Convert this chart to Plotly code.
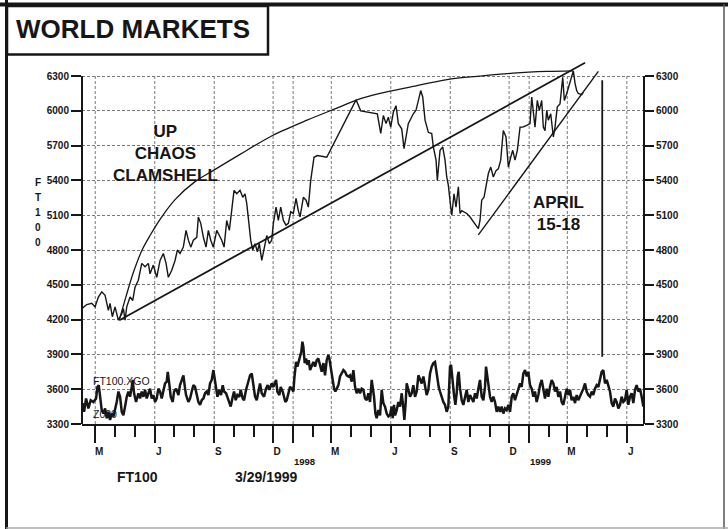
import plotly.graph_objects as go
import pandas as pd

# ---------------- data ----------------
BASE_DATE = "1997-03-01"   # day offsets below are counted from this date

ft100_day = [-20.9, -13.1, -5.4, -0.3, 4.8, 10.1, 15.2, 20.3, 22.9, 26.4,
             30.6, 35.7, 41.0, 43.5, 46.1, 48.7, 53.8, 58.0, 61.5, 66.6,
             71.9, 77.0, 82.1, 84.7, 89.8, 95.1, 100.2, 105.3, 109.5, 113.0,
             118.3, 123.4, 127.0, 131.1, 136.2, 140.4, 144.0, 147.7, 151.7, 157.0,
             159.4, 163.1, 167.2, 171.3, 174.9, 178.6, 182.6, 187.9, 191.9, 195.6,
             199.2, 203.3, 207.4, 211.1, 214.6, 218.8, 223.9, 228.1, 231.6, 234.3,
             236.7, 240.4, 243.5, 247.1, 250.7, 253.7, 257.5, 261.0, 265.2, 269.2,
             272.9, 275.4, 279.6, 283.1, 286.8, 290.9, 295.0, 298.6, 302.3, 306.3,
             310.5, 314.0, 316.7, 321.8, 326.0, 329.5, 333.2, 338.3, 343.4, 358.0,
             403.3, 410.5, 436.2, 441.5, 445.5, 449.7, 453.2, 456.9, 461.0, 465.1,
             468.7, 473.9, 477.5, 484.1, 491.9, 496.0, 499.6, 503.3, 506.4, 510.0,
             515.1, 520.3, 522.8, 527.0, 529.0, 533.2, 537.3, 540.9, 543.5, 546.0,
             549.7, 551.3, 554.8, 557.9, 561.5, 564.1, 566.7, 574.5, 579.6, 589.9,
             592.4, 595.0, 597.6, 601.2, 604.3, 607.9, 611.6, 615.6, 619.7, 623.3,
             627.0, 631.0, 635.2, 638.8, 642.5, 645.6, 649.1, 652.7, 656.9, 661.0,
             667.2, 672.3, 675.0, 677.4, 680.0, 683.6, 686.7, 690.4, 692.9, 695.5,
             698.2, 700.6, 704.3, 708.4, 711.0, 714.5, 718.7, 722.9, 725.4, 729.1,
             733.1, 736.8, 739.3, 742.0, 744.5, 747.0, 752.3, 754.7]
ft100_close = [4295, 4330, 4340, 4310, 4395, 4440, 4410, 4280, 4340, 4225,
               4310, 4195, 4250, 4295, 4195, 4310, 4395, 4365, 4480, 4540,
               4685, 4655, 4685, 4595, 4670, 4565, 4710, 4770, 4685, 4565,
               4625, 4710, 4800, 4770, 4825, 4970, 4885, 4825, 4885, 4910,
               5085, 5030, 4910, 4825, 4970, 4885, 4825, 4970, 4925, 4885,
               4825, 5055, 4970, 5170, 5315, 5285, 5315, 5255, 5285, 5200,
               5055, 4885, 4800, 4855, 4785, 4855, 4710, 4800, 4925, 4855,
               4885, 5030, 5170, 5055, 5170, 5055, 5015, 5030, 5130, 5115,
               5245, 5140, 5085, 5255, 5230, 5170, 5400, 5600, 5615, 5600,
               6095, 6000, 5975, 5805, 5960, 5890, 5945, 5860, 5990, 6045,
               5890, 5845, 5675, 5890, 5975, 6005, 6090, 6175, 6120, 5920,
               5815, 5805, 5690, 5575, 5400, 5660, 5690, 5575, 5430, 5360,
               5170, 5100, 5285, 5170, 5345, 5115, 5140, 5115, 5085, 5000,
               4985, 5055, 5230, 5255, 5345, 5460, 5515, 5430, 5485, 5500,
               5575, 5830, 5775, 5515, 5600, 5660, 5575, 5660, 5860, 5860,
               5875, 5890, 6120, 5975, 5860, 6090, 6005, 6090, 5860, 5830,
               6005, 5920, 5975, 5775, 5860, 6035, 6060, 6290, 6090, 6150,
               6235, 6290, 6345, 6235, 6175, 6150, 6140, 6160]

osc_day = [-19.4, -17.3, -14.2, -10.6, -7.0, -2.9, 1.3, 3.3, 5.4, 7.4,
           10.0, 12.6, 15.2, 17.8, 20.3, 22.9, 25.5, 28.1, 30.6, 33.2,
           35.8, 38.4, 41.0, 43.5, 46.1, 48.7, 51.3, 53.8, 56.4, 57.9,
           60.0, 63.1, 66.7, 69.3, 71.9, 74.5, 77.0, 79.6, 82.2, 84.8,
           87.3, 89.9, 92.5, 95.1, 97.6, 100.2, 102.8, 105.4, 107.9, 110.5,
           112.1, 114.7, 116.7, 119.8, 121.9, 125.0, 128.6, 131.1, 133.7, 136.3,
           138.9, 140.4, 144.0, 146.6, 149.2, 151.8, 154.3, 156.9, 159.5, 162.1,
           164.6, 167.2, 169.8, 172.4, 175.0, 177.5, 180.1, 182.7, 184.2, 186.8,
           188.9, 192.0, 194.5, 197.1, 199.2, 202.3, 204.3, 207.4, 209.5, 212.6,
           214.6, 217.2, 219.8, 222.9, 224.9, 228.0, 230.1, 233.2, 236.8, 239.4,
           242.0, 244.5, 247.1, 249.7, 252.3, 254.8, 257.4, 261.0, 264.1, 266.7,
           269.3, 272.9, 275.5, 278.0, 279.6, 281.6, 284.7, 286.8, 289.9, 291.9,
           294.0, 296.1, 298.6, 301.2, 303.8, 306.4, 307.9, 310.5, 312.6, 314.6,
           316.7, 318.7, 320.3, 321.8, 323.9, 326.0, 328.0, 330.1, 332.2, 334.7,
           337.3, 339.9, 342.5, 345.0, 347.6, 350.2, 352.8, 355.3, 357.9, 360.5,
           362.0, 364.1, 367.2, 369.3, 371.3, 373.4, 376.0, 378.5, 381.1, 383.7,
           386.3, 388.8, 391.4, 394.0,
           396.6, 399.2, 401.7, 404.3, 406.9, 409.5, 412.0, 414.6, 417.2, 419.8,
           422.3, 424.9, 427.5, 429.0, 431.1, 433.2, 435.2, 437.8, 440.4, 443.0,
           445.5, 448.1, 450.7, 453.3, 455.8, 458.4, 460.0, 462.0, 463.6, 466.2,
           468.7, 471.3, 473.9, 476.5, 478.0, 480.1, 481.6, 484.2, 486.8, 489.3,
           491.9, 494.5, 497.1, 499.7, 502.2, 504.8, 507.4, 510.0, 512.5, 515.1,
           517.7, 520.3, 522.9, 525.4, 527.0, 529.0, 531.1, 533.2, 535.7, 538.3,
           540.9, 543.5, 546.0, 548.6, 550.2, 552.7, 554.8, 556.9, 558.9, 560.5,
           562.0, 564.1, 566.7, 569.2, 571.8, 574.4, 577.0, 579.5, 582.1, 584.7,
           587.3, 589.9, 592.4, 595.0, 597.6, 600.2, 602.7, 604.3, 606.3, 608.4,
           610.5, 613.0, 615.6, 618.2, 620.8, 623.4, 625.9, 628.5, 631.1, 633.7,
           636.2, 638.8, 641.4, 644.0, 646.5, 649.1, 651.7, 654.3, 656.9, 659.4,
           662.0, 664.6, 667.2, 669.7, 672.3, 674.9, 677.5, 680.0, 682.6, 685.2,
           687.8, 690.4, 692.9, 695.5, 698.1, 700.7, 703.2, 705.8, 708.4, 711.0,
           713.5, 716.1, 718.7, 721.3, 723.9, 726.4, 729.0, 731.6, 734.2, 736.7,
           739.3, 741.9, 744.5, 747.0, 749.6, 752.2, 754.8, 757.4, 759.9, 762.5,
           765.1, 767.7, 770.2, 772.8, 775.4, 778.0, 780.6, 783.1, 785.7, 788.3,
           790.9, 793.4, 796.0, 798.6, 801.2, 803.7, 806.3, 808.9, 811.5, 814.0,
           816.6, 819.2, 821.8, 824.4, 826.9, 829.5, 832.1, 834.7, 837.2, 839.8,
           842.4, 845.0, 847.6]
osc_value = [3480, 3405, 3520, 3435, 3505, 3490, 3520, 3620, 3635, 3550,
             3420, 3390, 3435, 3350, 3405, 3335, 3390, 3365, 3420, 3490,
             3580, 3535, 3405, 3375, 3450, 3535, 3580, 3535, 3620, 3680,
             3565, 3490, 3565, 3520, 3580, 3535, 3595, 3520, 3565, 3605,
             3520, 3550, 3490, 3520, 3605, 3580, 3520, 3595, 3650, 3665,
             3750, 3635, 3535, 3490, 3580, 3605, 3550, 3635, 3680, 3720,
             3605, 3550, 3490, 3520, 3580, 3635, 3620, 3550, 3490, 3465,
             3505, 3520, 3565, 3580, 3550, 3650, 3680, 3765, 3710, 3595,
             3535, 3595, 3550, 3635, 3580, 3565, 3535, 3480, 3450, 3535,
             3580, 3505, 3550, 3535, 3595, 3520, 3505, 3595, 3680, 3720,
             3735, 3620, 3535, 3505, 3595, 3650, 3565, 3535, 3605, 3635,
             3595, 3650, 3620, 3665, 3680, 3580, 3550, 3620, 3580, 3535,
             3490, 3505, 3565, 3620, 3605, 3580, 3695, 3835, 3795, 3835,
             3865, 3925, 4010, 3965, 3825, 3865, 3810, 3850, 3765, 3795,
             3835, 3795, 3850, 3865, 3795, 3750, 3825, 3720, 3850, 3895,
             3865, 3795, 3710, 3605, 3580, 3605, 3635, 3710, 3735, 3765,
             3750, 3720, 3710, 3720,
             3665, 3765, 3620, 3565, 3605, 3565, 3605, 3595, 3520, 3505,
             3565, 3490, 3680, 3620, 3535, 3390, 3350, 3420, 3375, 3595,
             3480, 3450, 3390, 3365, 3375, 3450, 3350, 3465, 3375, 3420,
             3490, 3450, 3565, 3435, 3335, 3490, 3650, 3595, 3535, 3565,
             3635, 3535, 3580, 3720, 3680, 3650, 3710, 3605, 3550, 3595,
             3735, 3795, 3825, 3835, 3765, 3680, 3620, 3580, 3535, 3490,
             3465, 3405, 3450, 3795, 3810, 3650, 3550, 3465, 3565, 3710,
             3750, 3605, 3505, 3465, 3535, 3595, 3490, 3550, 3520, 3490,
             3565, 3520, 3605, 3680, 3535, 3505, 3620, 3795, 3710, 3605,
             3535, 3490, 3535, 3490, 3405, 3450, 3405, 3450, 3390, 3435,
             3420, 3465, 3405, 3535, 3565, 3505, 3550, 3595, 3650, 3620,
             3735, 3765, 3710, 3750, 3635, 3605, 3535, 3580, 3490, 3550,
             3635, 3680, 3580, 3520, 3605, 3535, 3620, 3680, 3650, 3580,
             3620, 3535, 3580, 3490, 3465, 3535, 3605, 3550, 3595, 3505,
             3535, 3480, 3550, 3505, 3535, 3565, 3605, 3650, 3580, 3550,
             3535, 3580, 3550, 3605, 3635, 3620, 3680, 3750, 3765, 3650,
             3680, 3620, 3580, 3480, 3450, 3520, 3490, 3435, 3465, 3535,
             3490, 3505, 3595, 3465, 3535, 3565, 3480, 3595, 3635, 3580,
             3605, 3535, 3450]

# hand-drawn "chaos clamshell" arc
arc_day = [37.0, 47.6, 58.5, 72.4, 84.7, 100.2, 123.4, 154.3, 182.2, 223.9,
           274.9, 327.5, 378.5, 404.8, 440.4, 486.8, 544.0, 595.0, 646.0, 698.6, 738.8]
arc_value = [4195, 4400, 4600, 4800, 4925, 5065, 5235, 5390, 5485, 5625,
             5790, 5920, 6035, 6095, 6150, 6205, 6270, 6300, 6325, 6340, 6345]

# straight trend lines (start, end)
trend_day = [37.3, 757.4]
trend_value = [4195, 6415]
wedge_day = [592.4, 778.0]
wedge_value = [4930, 6340]
april_day = [784.0, 784.0]
april_value = [3880, 6265]

# axes
y_ticks = [3300, 3600, 3900, 4200, 4500, 4800, 5100, 5400, 5700, 6000, 6300]
major_ticks = ["1997-03-01", "1997-06-01", "1997-09-01", "1997-12-01", "1998-01-01",
               "1998-03-01", "1998-06-01", "1998-09-01", "1998-12-01", "1999-01-01",
               "1999-03-01", "1999-06-01"]
major_labels = ["M", "J", "S", "D", "", "M", "J", "S", "D", "", "M", "J"]
minor_ticks = ["1997-04-01", "1997-05-01", "1997-07-01", "1997-08-01", "1997-10-01",
               "1997-11-01", "1998-02-01", "1998-04-01", "1998-05-01", "1998-07-01",
               "1998-08-01", "1998-10-01", "1998-11-01", "1999-02-01", "1999-04-01",
               "1999-05-01"]
year_labels = [("1998", "1998-01-19"), ("1999", "1999-01-19")]
x_range = ["1997-02-08 12:00", "1999-06-27 14:00"]
y_range = [3300, 6430]

# ---------------- figure ----------------
base = pd.Timestamp(BASE_DATE)


def to_dates(days):
    return [base + pd.Timedelta(days=float(d)) for d in days]


INK = "#161616"
FONT = "Liberation Sans, Arial, sans-serif"

fig = go.Figure()
fig.add_trace(go.Scatter(x=to_dates(osc_day), y=osc_value, mode="lines",
                         line=dict(color=INK, width=2.5), hoverinfo="skip"))
fig.add_trace(go.Scatter(x=to_dates(ft100_day), y=ft100_close, mode="lines",
                         line=dict(color=INK, width=1.4)))
fig.add_trace(go.Scatter(x=to_dates(arc_day), y=arc_value, mode="lines",
                         line=dict(color=INK, width=1.3, shape="spline", smoothing=0.8),
                         hoverinfo="skip"))
fig.add_trace(go.Scatter(x=to_dates(trend_day), y=trend_value, mode="lines",
                         line=dict(color=INK, width=1.8), hoverinfo="skip"))
fig.add_trace(go.Scatter(x=to_dates(wedge_day), y=wedge_value, mode="lines",
                         line=dict(color=INK, width=1.4), hoverinfo="skip"))
fig.add_trace(go.Scatter(x=to_dates(april_day), y=april_value, mode="lines",
                         line=dict(color=INK, width=1.8), hoverinfo="skip"))
fig.add_trace(go.Scatter(x=[], y=[], yaxis="y2", showlegend=False))

PW, PH, ML, MT = 562, 363, 82, 61


def px(x):
    return (x - ML) / PW


def py(y):
    return (MT + PH - y) / PH


shapes = []
# vertical dashed grid lines at the major ticks (stop at 6300)
for t in major_ticks:
    shapes.append(dict(type="line", xref="x", yref="y", x0=t, x1=t,
                       y0=y_ticks[0], y1=y_ticks[-1], layer="below",
                       line=dict(color="#7a7a7a", width=1, dash="3px,2px")))
# left / right axis lines from 3300 to 6300
for xp in (0, 1):
    shapes.append(dict(type="line", xref="paper", yref="y", x0=xp, x1=xp,
                       y0=y_ticks[0], y1=y_ticks[-1],
                       line=dict(color=INK, width=2)))
# page frame
shapes += [
    dict(type="line", xref="paper", yref="paper", x0=px(0), x1=px(728),
         y0=py(4.5), y1=py(4.5), line=dict(color=INK, width=4)),
    dict(type="line", xref="paper", yref="paper", x0=px(6.5), x1=px(6.5),
         y0=py(0), y1=py(529), line=dict(color=INK, width=3)),
    dict(type="line", xref="paper", yref="paper", x0=px(724), x1=px(724),
         y0=py(4), y1=py(529), line=dict(color="#555555", width=1.5)),
    dict(type="line", xref="paper", yref="paper", x0=px(6), x1=px(728),
         y0=py(528), y1=py(528), line=dict(color="#aaaaaa", width=1.5)),
    dict(type="rect", xref="paper", yref="paper", x0=px(7), x1=px(268),
         y0=py(54.5), y1=py(6), line=dict(color=INK, width=2.5)),
]

annotations = [
    dict(text="WORLD MARKETS", xref="paper", yref="paper", x=px(14), y=py(29.5),
         xanchor="left", yanchor="middle", showarrow=False,
         font=dict(family=FONT, size=26, color=INK, weight="bold")),
    dict(text="UP<br>CHAOS<br>CLAMSHELL", xref="paper", yref="paper", x=px(165),
         y=py(153.5), xanchor="center", yanchor="middle", showarrow=False,
         font=dict(family=FONT, size=17, color=INK, weight="bold")),
    dict(text="APRIL<br>15-18", xref="paper", yref="paper", x=px(558), y=py(213),
         xanchor="center", yanchor="middle", showarrow=False,
         font=dict(family=FONT, size=17, color=INK, weight="bold")),
    dict(text="FT100.XGO", xref="paper", yref="paper", x=px(91), y=py(381),
         xanchor="left", yanchor="middle", showarrow=False,
         font=dict(family=FONT, size=10.5, color=INK)),
    dict(text="Z000", xref="paper", yref="paper", x=px(91), y=py(414),
         xanchor="left", yanchor="middle", showarrow=False,
         font=dict(family=FONT, size=10.5, color=INK)),
    dict(text="FT100", xref="paper", yref="paper", x=px(137), y=py(477),
         xanchor="center", yanchor="middle", showarrow=False,
         font=dict(family=FONT, size=14, color=INK, weight="bold")),
    dict(text="3/29/1999", xref="paper", yref="paper", x=px(266), y=py(477),
         xanchor="center", yanchor="middle", showarrow=False,
         font=dict(family=FONT, size=14, color=INK, weight="bold")),
]
for txt, d in year_labels:
    annotations.append(dict(text=txt, xref="x", yref="paper", x=d, y=py(461.5),
                            xanchor="center", yanchor="middle", showarrow=False,
                            font=dict(family=FONT, size=9.5, color=INK, weight="bold")))
for i, ch in enumerate("FT100"):
    annotations.append(dict(text=ch, xref="paper", yref="paper", x=px(38),
                            y=py(182.5 + 15 * i), xanchor="center", yanchor="middle",
                            showarrow=False,
                            font=dict(family=FONT, size=10, color=INK, weight="bold")))

tickfont = dict(family=FONT, size=10, color=INK, weight="bold")

fig.update_layout(
    width=728, height=529,
    margin=dict(l=ML, r=728 - ML - PW, t=MT, b=529 - MT - PH, pad=0),
    paper_bgcolor="white", plot_bgcolor="white",
    showlegend=False,
    shapes=shapes, annotations=annotations,
    xaxis=dict(type="date", range=x_range, tickmode="array", tickvals=major_ticks,
               ticktext=major_labels, ticks="outside", ticklen=17, tickwidth=1.5,
               tickcolor=INK, showgrid=False, zeroline=False, showline=True,
               linecolor=INK, linewidth=1.5, tickfont=tickfont, ticklabelshift=4,
               minor=dict(tickmode="array", tickvals=minor_ticks, ticks="outside",
                          ticklen=11, tickwidth=1.5, tickcolor=INK, showgrid=False)),
    yaxis=dict(range=y_range, tickmode="array", tickvals=y_ticks, ticks="outside",
               ticklen=10, tickwidth=1.5, tickcolor=INK, showgrid=True,
               gridcolor="#7a7a7a", gridwidth=1, griddash="3px,2px",
               zeroline=False, showline=False, tickfont=tickfont),
    yaxis2=dict(range=y_range, overlaying="y", side="right", tickmode="array",
                tickvals=y_ticks, ticks="outside", ticklen=9, tickwidth=1.5,
                tickcolor=INK, showgrid=False, zeroline=False, showline=False,
                tickfont=tickfont),
)

# remove the browser's default 8px page margin so the 728x529 figure fills the window
fig.write_html("out.html",
               config={"displayModeBar": False},
               post_script="document.body.style.margin='0';document.body.style.overflow='hidden';")
